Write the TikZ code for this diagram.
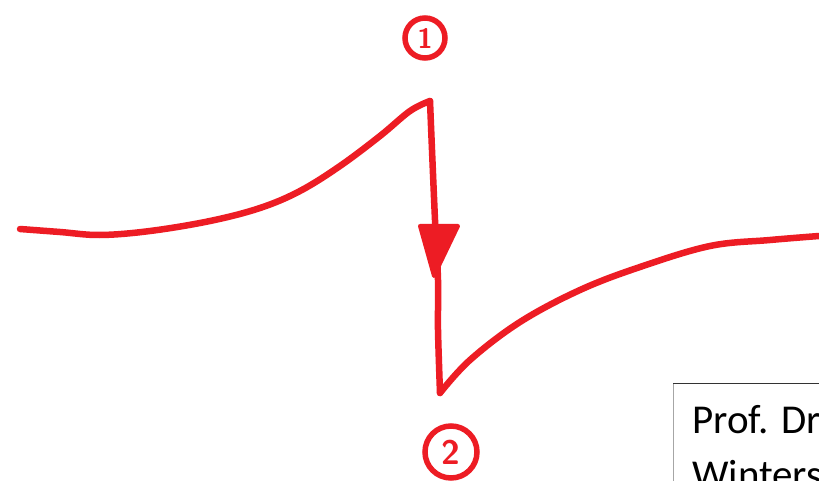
\documentclass[tikz,border=0pt]{standalone}
\usepackage{fontspec}
\setmainfont{Carlito}
\definecolor{pen}{RGB}{237,28,36}
\begin{document}
\begin{tikzpicture}[x=1pt,y=-1pt,
  ink/.style={draw=pen,line width=6.5pt,line cap=round,line join=round},
  num/.style={circle,draw=pen,line width=5.5pt,text=pen,inner sep=0pt}]
\useasboundingbox (0,0) rectangle (819,481);
\clip (0,0) rectangle (819,481);
\fill[white] (0,0) rectangle (819,481);
% curve
\draw[ink] plot[smooth,tension=0.6] coordinates {(20,229) (60,232) (100,235) (150,231) (210,221) (260,208) (300,191) (340,166) (380,136) (410,111) (430,101)};
\draw[ink] plot[smooth,tension=0.5] coordinates {(430,101) (432,150) (435,220) (438,280) (438,330) (440,393)};
\draw[ink] plot[smooth,tension=0.6] coordinates {(440,393) (470,360) (520,322) (580,290) (640,267) (710,246) (770,240) (819,236)};
% arrowhead
\fill[pen,draw=pen,line width=4pt,line join=round] (420,226) -- (458,226) -- (434,276) -- cycle;
% circled numbers
\node[num,minimum size=40pt,font=\sffamily\bfseries\fontsize{28}{28}\selectfont] (n1) at (425,38) {1};
\node[num,minimum size=52pt,font=\sffamily\bfseries\fontsize{34}{34}\selectfont] (n2) at (451,452) {2};
% box
\draw[gray!70,line width=1pt] (673.5,383) -- (673.5,481);
\draw[black!80,line width=1pt] (673,383.5) -- (819,383.5);
\node[anchor=base west,inner sep=0pt,font=\fontsize{41}{41}\selectfont] (t1) at (692,433) {Prof. Dr};
\node[anchor=base west,inner sep=0pt,font=\fontsize{41}{41}\selectfont] (t2) at (692,488) {Winters};
\end{tikzpicture}
\end{document}
